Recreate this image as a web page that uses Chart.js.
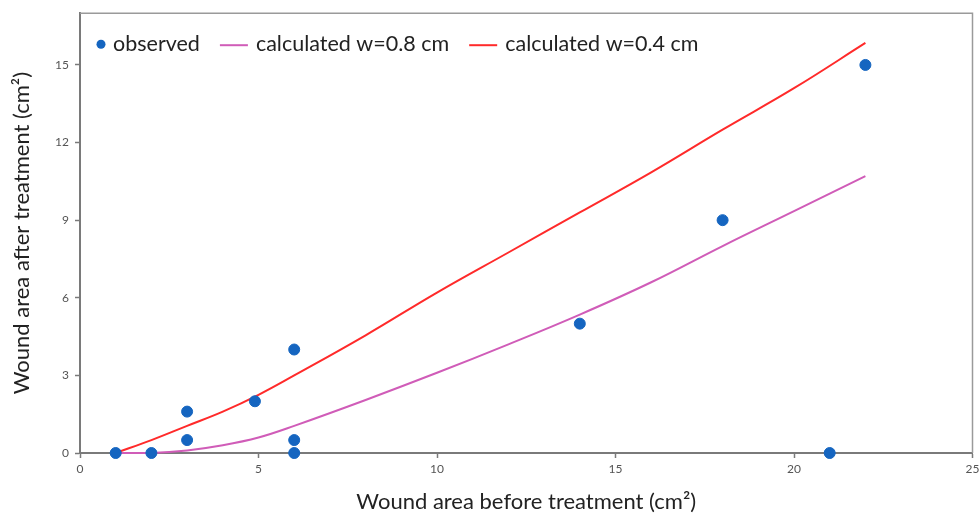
<!DOCTYPE html>
<html>
<head>
<meta charset="utf-8">
<script src="https://cdn.jsdelivr.net/npm/chart.js@4.4.1/dist/chart.umd.min.js"></script>
<style>
  html, body { margin: 0; padding: 0; background: #fff; }
  #wrap { width: 979px; height: 515px; position: relative; }
</style>
</head>
<body>
<div id="wrap"><canvas id="woundChart" width="979" height="515"></canvas></div>
<script>
// observed wounds
var obsBefore = [1, 2, 3, 3, 4.9, 6, 6, 6, 14, 18, 21, 22];
var obsAfter = [0, 0, 1.6, 0.5, 2.0, 4.0, 0.5, 0, 5.0, 9.0, 0, 15.0];

// model curves
var calcX = [1, 2, 3, 4, 5, 6, 8, 10, 12, 14, 16, 18, 20, 22];
var calcW08 = [0, 0, 0.1, 0.3, 0.6, 1.05, 2.05, 3.1, 4.2, 5.35, 6.6, 8.0, 9.35, 10.7];
var calcW04 = [0, 0.5, 1.05, 1.6, 2.25, 3.0, 4.55, 6.2, 7.75, 9.3, 10.85, 12.5, 14.1, 15.85];

var xTicks = [0, 5, 10, 15, 20, 25];
var yTicks = [0, 3, 6, 9, 12, 15];

var FONT = 'Lato, "DejaVu Sans", sans-serif';
var AXIS_GREY = '#7a7a7a';

function toPoints(xs, ys) {
  return xs.map(function (x, i) { return { x: x, y: ys[i] }; });
}

// draws top and right border of the plot
var frame = {
  id: 'frame',
  beforeDatasetsDraw: function (chart) {
    var a = chart.chartArea, c = chart.ctx;
    c.save();
    c.strokeStyle = '#9a9a9a';
    c.lineWidth = 1.5;
    c.beginPath();
    c.moveTo(a.left, a.top);
    c.lineTo(a.right, a.top);
    c.lineTo(a.right, a.bottom);
    c.stroke();
    c.restore();
  }
};

// legend inside the plot, top left
var innerLegend = {
  id: 'innerLegend',
  afterDraw: function (chart) {
    var a = chart.chartArea, c = chart.ctx;
    var y = a.top + 31;
    var x = a.left + 20;
    c.save();
    c.font = '21.5px ' + FONT;
    c.textBaseline = 'middle';
    chart.data.datasets.forEach(function (ds) {
      if (ds.showLine) {
        c.strokeStyle = ds.borderColor;
        c.lineWidth = 2;
        c.beginPath();
        c.moveTo(x, y + 1);
        c.lineTo(x + 28, y + 1);
        c.stroke();
        x += 36;
      } else {
        c.fillStyle = ds.backgroundColor;
        c.beginPath();
        c.arc(x + 1, y, 4.5, 0, Math.PI * 2);
        c.fill();
        x += 13;
      }
      c.fillStyle = '#222';
      c.fillText(ds.label, x, y);
      x += c.measureText(ds.label).width + 20;
    });
    c.restore();
  }
};

var ctx = document.getElementById('woundChart').getContext('2d');
var chart = new Chart(ctx, {
  type: 'scatter',
  data: {
    datasets: [{
      label: 'observed',
      data: toPoints(obsBefore, obsAfter),
      backgroundColor: '#1565c0',
      borderColor: '#1565c0',
      pointRadius: 5.5,
      pointHoverRadius: 5.5,
      order: 0
    }, {
      label: 'calculated w=0.8 cm',
      data: toPoints(calcX, calcW08),
      showLine: true,
      borderColor: '#d05cb8',
      backgroundColor: '#d05cb8',
      borderWidth: 2,
      pointRadius: 0,
      tension: 0.4,
      order: 1
    }, {
      label: 'calculated w=0.4 cm',
      data: toPoints(calcX, calcW04),
      showLine: true,
      borderColor: '#ff2a2a',
      backgroundColor: '#ff2a2a',
      borderWidth: 2,
      pointRadius: 0,
      tension: 0.4,
      order: 2
    }]
  },
  options: {
    responsive: false,
    animation: false,
    clip: false,
    layout: { padding: { top: 13, right: 6, left: 0, bottom: 0 } },
    plugins: {
      legend: { display: false },
      tooltip: { enabled: false }
    },
    scales: {
      x: {
        type: 'linear',
        min: 0,
        max: 25,
        afterBuildTicks: function (s) { s.ticks = xTicks.map(function (v) { return { value: v }; }); },
        afterFit: function (s) { s.height = 62; s.paddingRight = 0; },
        border: { color: AXIS_GREY, width: 2 },
        grid: { drawOnChartArea: false, color: AXIS_GREY, tickLength: 5, tickWidth: 1.5 },
        ticks: { color: '#555', font: { family: FONT, size: 12 }, padding: 4, maxRotation: 0 },
        title: {
          display: true,
          text: 'Wound area before treatment (cm²)',
          color: '#222',
          font: { family: FONT, size: 22 },
          padding: { top: 4, bottom: 0 }
        }
      },
      y: {
        type: 'linear',
        min: 0,
        max: 17,
        afterBuildTicks: function (s) { s.ticks = yTicks.map(function (v) { return { value: v }; }); },
        afterFit: function (s) { s.width = 80; },
        border: { color: AXIS_GREY, width: 2 },
        grid: { drawOnChartArea: false, color: AXIS_GREY, tickLength: 5, tickWidth: 1.5 },
        ticks: { color: '#555', font: { family: FONT, size: 12 }, padding: 6 },
        title: {
          display: true,
          text: 'Wound area after treatment (cm²)',
          color: '#222',
          font: { family: FONT, size: 22 },
          padding: { top: 9, bottom: 0 }
        }
      }
    }
  },
  plugins: [frame, innerLegend]
});
</script>
</body>
</html>
